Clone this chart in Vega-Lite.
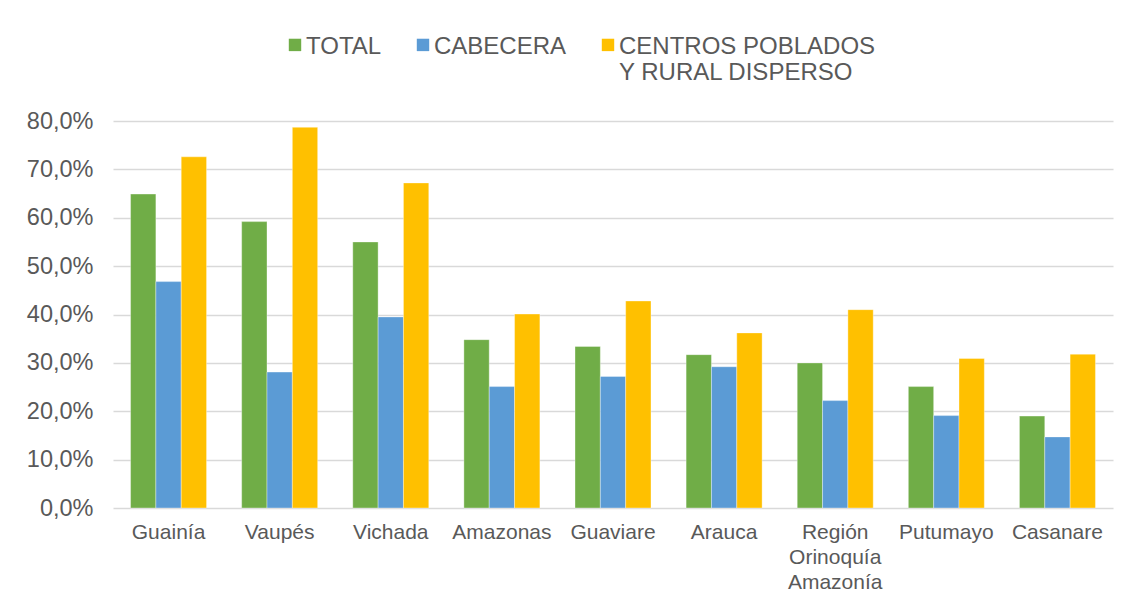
{
  "$schema": "https://vega.github.io/schema/vega-lite/v6.json",
  "autosize": "none",
  "width": 1000,
  "height": 387,
  "padding": {"left": 113, "top": 121, "right": 19, "bottom": 99},
  "background": "white",
  "data": {
    "values": [
      {"dep": "Guainía", "serie": "TOTAL", "v": 0.649},
      {"dep": "Guainía", "serie": "CABECERA", "v": 0.468},
      {"dep": "Guainía", "serie": "CENTROS POBLADOS Y RURAL DISPERSO", "v": 0.726},
      {"dep": "Vaupés", "serie": "TOTAL", "v": 0.592},
      {"dep": "Vaupés", "serie": "CABECERA", "v": 0.281},
      {"dep": "Vaupés", "serie": "CENTROS POBLADOS Y RURAL DISPERSO", "v": 0.787},
      {"dep": "Vichada", "serie": "TOTAL", "v": 0.550},
      {"dep": "Vichada", "serie": "CABECERA", "v": 0.395},
      {"dep": "Vichada", "serie": "CENTROS POBLADOS Y RURAL DISPERSO", "v": 0.672},
      {"dep": "Amazonas", "serie": "TOTAL", "v": 0.348},
      {"dep": "Amazonas", "serie": "CABECERA", "v": 0.251},
      {"dep": "Amazonas", "serie": "CENTROS POBLADOS Y RURAL DISPERSO", "v": 0.401},
      {"dep": "Guaviare", "serie": "TOTAL", "v": 0.334},
      {"dep": "Guaviare", "serie": "CABECERA", "v": 0.272},
      {"dep": "Guaviare", "serie": "CENTROS POBLADOS Y RURAL DISPERSO", "v": 0.428},
      {"dep": "Arauca", "serie": "TOTAL", "v": 0.317},
      {"dep": "Arauca", "serie": "CABECERA", "v": 0.292},
      {"dep": "Arauca", "serie": "CENTROS POBLADOS Y RURAL DISPERSO", "v": 0.362},
      {"dep": "Región Orinoquía Amazonía", "serie": "TOTAL", "v": 0.300},
      {"dep": "Región Orinoquía Amazonía", "serie": "CABECERA", "v": 0.222},
      {"dep": "Región Orinoquía Amazonía", "serie": "CENTROS POBLADOS Y RURAL DISPERSO", "v": 0.410},
      {"dep": "Putumayo", "serie": "TOTAL", "v": 0.251},
      {"dep": "Putumayo", "serie": "CABECERA", "v": 0.191},
      {"dep": "Putumayo", "serie": "CENTROS POBLADOS Y RURAL DISPERSO", "v": 0.309},
      {"dep": "Casanare", "serie": "TOTAL", "v": 0.190},
      {"dep": "Casanare", "serie": "CABECERA", "v": 0.147},
      {"dep": "Casanare", "serie": "CENTROS POBLADOS Y RURAL DISPERSO", "v": 0.318}
    ]
  },
  "mark": {"type": "bar", "stroke": "white", "strokeWidth": 0.6, "strokeOpacity": 0.6},
  "encoding": {
    "x": {
      "field": "dep",
      "type": "nominal",
      "sort": null,
      "scale": {"paddingInner": 0.316, "paddingOuter": 0.158},
      "axis": {
        "title": null,
        "labelAngle": 0,
        "ticks": false,
        "domain": false,
        "labelPadding": 13,
        "labelFont": "Liberation Sans",
        "labelFontSize": 21,
        "labelColor": "#595959",
        "labelLineHeight": 25,
        "labelLimit": 300,
        "labelExpr": "datum.label == 'Región Orinoquía Amazonía' ? ['Región', 'Orinoquía', 'Amazonía'] : datum.label"
      }
    },
    "xOffset": {
      "field": "serie",
      "type": "nominal",
      "sort": ["TOTAL", "CABECERA", "CENTROS POBLADOS Y RURAL DISPERSO"],
      "scale": {"paddingInner": 0, "paddingOuter": 0}
    },
    "y": {
      "field": "v",
      "type": "quantitative",
      "scale": {"domain": [0, 0.8], "nice": false},
      "axis": {
        "title": null,
        "values": [0, 0.1, 0.2, 0.3, 0.4, 0.5, 0.6, 0.7, 0.8],
        "labelExpr": "replace(format(datum.value, '.1%'), '.', ',')",
        "ticks": false,
        "domain": false,
        "labelPadding": 20,
        "labelFont": "Liberation Sans",
        "labelFontSize": 23.5,
        "labelColor": "#595959",
        "gridColor": "#d9d9d9",
        "gridWidth": 1.5
      }
    },
    "color": {
      "field": "serie",
      "type": "nominal",
      "sort": ["TOTAL", "CABECERA", "CENTROS POBLADOS Y RURAL DISPERSO"],
      "scale": {
        "domain": ["TOTAL", "CABECERA", "CENTROS POBLADOS Y RURAL DISPERSO"],
        "range": ["#70AD47", "#5B9BD5", "#FFC000"]
      },
      "legend": {
        "title": null,
        "orient": "none",
        "legendX": 170,
        "legendY": -98,
        "direction": "horizontal",
        "columns": 3,
        "columnPadding": 29,
        "symbolType": "M-1,0.6H1V2.6H-1Z",
        "symbolSize": 154,
        "symbolStrokeWidth": 0,
        "labelOffset": -1,
        "labelBaseline": "top",
        "labelFont": "Liberation Sans",
        "labelFontSize": 24,
        "labelColor": "#595959",
        "labelLimit": 400,
        "labelExpr": "datum.label == 'CENTROS POBLADOS Y RURAL DISPERSO' ? ['CENTROS POBLADOS', 'Y RURAL DISPERSO'] : [datum.label, ' ']"
      }
    }
  },
  "config": {
    "view": {"stroke": null},
    "style": {"guide-label": {"lineHeight": 26}}
  }
}
